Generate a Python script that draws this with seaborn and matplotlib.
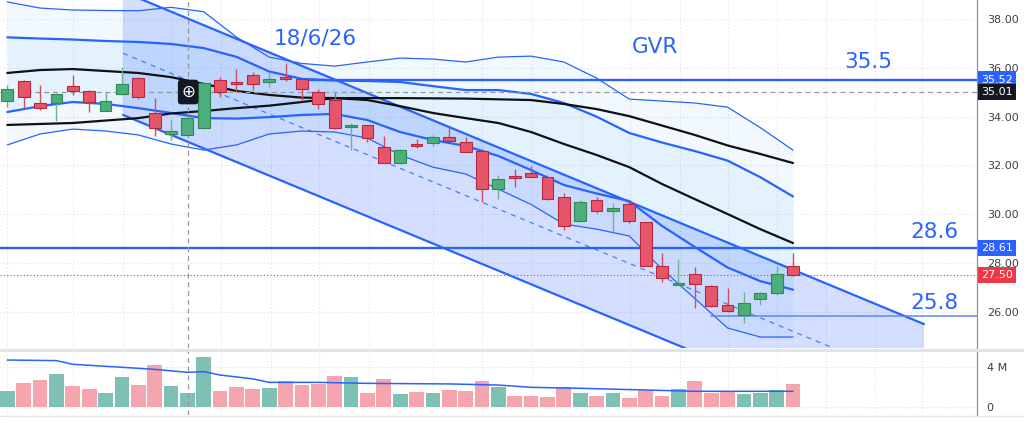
import numpy as np
import pandas as pd
import matplotlib
matplotlib.use("Agg")
import matplotlib.pyplot as plt
from matplotlib.lines import Line2D
import seaborn as sns

sns.set_style("white")
plt.rcParams["font.family"] = ["DejaVu Sans"]

# ---------------- data ----------------
opens = [34.66, 35.47, 34.56, 34.57, 35.25, 35.05, 34.24, 34.91, 35.60, 34.13, 33.29, 33.25, 33.52,
         35.50, 35.42, 35.70, 35.41, 35.61, 35.54, 35.00, 34.68, 33.58, 33.64, 32.77, 32.11, 32.86,
         32.90, 33.15, 32.97, 32.59, 31.02, 31.54, 31.70, 31.51, 30.69, 29.72, 30.58, 30.13, 30.41,
         29.68, 27.89, 27.11, 27.54, 27.06, 26.28, 25.87, 26.51, 26.78, 27.90]
closes = [35.12, 34.82, 34.34, 34.91, 35.06, 34.59, 34.63, 35.34, 34.82, 33.52, 33.41, 33.93, 35.39,
          35.02, 35.32, 35.32, 35.54, 35.54, 35.12, 34.50, 33.55, 33.64, 33.11, 32.09, 32.62, 32.81,
          33.15, 33.01, 32.54, 31.02, 31.43, 31.50, 31.51, 30.61, 29.52, 30.49, 30.13, 30.24, 29.71,
          27.90, 27.37, 27.17, 27.13, 26.24, 26.03, 26.35, 26.76, 27.55, 27.50]
highs = [35.30, 35.50, 35.30, 34.93, 35.70, 35.10, 35.00, 36.02, 35.62, 34.75, 33.89, 34.00, 35.42,
         35.61, 35.94, 35.84, 35.83, 36.18, 35.56, 35.12, 34.95, 33.75, 33.66, 33.20, 32.66, 33.07,
         33.25, 33.59, 33.15, 32.66, 31.61, 31.84, 31.98, 31.61, 30.88, 30.58, 30.69, 30.47, 30.51,
         29.70, 28.42, 28.15, 27.82, 27.10, 26.96, 26.82, 26.80, 27.88, 28.42]
lows = [34.40, 34.34, 34.27, 33.82, 34.90, 34.20, 34.22, 34.88, 34.71, 33.20, 33.04, 33.20, 33.50,
        34.79, 35.00, 35.09, 35.23, 35.46, 34.65, 34.31, 33.50, 32.63, 32.97, 32.09, 32.05, 32.73,
        32.80, 33.01, 32.54, 30.51, 30.61, 31.13, 31.51, 30.58, 29.35, 29.70, 30.04, 29.28, 29.63,
        27.88, 27.23, 27.10, 26.14, 26.22, 26.00, 25.55, 26.30, 26.70, 27.48]
volumes_m = [1.58, 2.39, 2.69, 3.26, 2.12, 1.78, 1.41, 3.03, 2.18, 4.17, 2.12, 1.41, 5.00, 1.58,
             2.02, 1.78, 1.92, 2.62, 2.18, 2.25, 3.09, 2.96, 1.34, 2.79, 1.28, 1.48, 1.41, 1.65,
             1.58, 2.62, 2.02, 1.11, 1.11, 1.01, 2.02, 1.41, 1.04, 1.34, 0.87, 1.68, 1.04, 1.78,
             2.55, 1.41, 1.55, 1.28, 1.38, 1.68, 2.29]

# Bollinger bands (1 and 2 std) around the fast black MA, read at even bars
bb_idx = list(range(0, 49, 2))
bb_mid = [35.79, 35.91, 35.95, 35.87, 35.79, 35.62, 35.34, 35.05, 34.89, 34.78, 34.76, 34.68, 34.43,
          34.15, 33.94, 33.74, 33.37, 32.88, 32.43, 31.93, 31.24, 30.62, 30.01, 29.39, 28.82]
bb_up2 = [38.70, 38.45, 38.37, 38.35, 38.34, 38.48, 38.30, 37.26, 36.44, 36.18, 36.07, 36.24, 36.40,
          36.36, 36.24, 36.44, 36.48, 36.24, 35.58, 34.72, 34.64, 34.56, 34.39, 33.55, 32.63]
bb_up1 = [37.25, 37.20, 37.16, 37.10, 37.06, 36.98, 36.81, 36.45, 35.85, 35.55, 35.48, 35.46, 35.42,
          35.25, 35.09, 35.09, 34.93, 34.56, 34.00, 33.33, 32.94, 32.59, 32.20, 31.52, 30.73]
bb_lo1 = [34.19, 34.43, 34.60, 34.52, 34.35, 34.15, 33.94, 33.92, 33.98, 34.07, 34.11, 33.86, 33.37,
          33.04, 32.80, 32.39, 31.81, 31.20, 30.85, 30.54, 29.52, 28.66, 27.82, 27.26, 26.91]
bb_lo2 = [32.84, 33.29, 33.49, 33.41, 33.25, 32.88, 32.63, 32.84, 33.29, 33.41, 33.37, 33.12, 32.43,
          31.93, 31.65, 31.03, 30.40, 29.60, 29.39, 29.11, 27.75, 26.55, 25.34, 24.97, 24.97]

# slow black MA
ma_slow_idx = [0, 4, 8, 10, 12, 14, 16, 18, 20, 24, 28, 32, 34, 36, 38, 42, 44, 46, 48]
ma_slow = [33.66, 33.74, 33.94, 34.13, 34.23, 34.35, 34.45, 34.60, 34.76, 34.76, 34.74, 34.68,
           34.52, 34.31, 34.02, 33.25, 32.82, 32.47, 32.10]

# volume moving average (millions)
vma_idx = [0, 3, 4, 7, 9, 11, 12, 13, 15, 16, 19, 22, 27, 30, 32, 35, 39, 42, 48]
vma = [4.70, 4.64, 4.27, 3.97, 3.76, 3.46, 3.53, 3.19, 2.80, 2.45, 2.45, 2.35, 2.29, 2.18, 1.95,
       1.85, 1.68, 1.55, 1.55]

# descending parallel channel (anchor bars and prices)
chan_idx = [7.07, 56.0]
chan_upper = [39.12, 25.50]
chan_lower = [34.07, 20.45]

# horizontal levels
level_hi, level_hi_start = 35.52, 18
level_mid = 28.61
level_lo, level_lo_start = 25.83, 43
crosshair_price, crosshair_bar = 35.01, 11.05
last_price = 27.50

price_ticks = [26, 28, 30, 32, 34, 36, 38]
grid_bars = [0, 4, 7.07, 10.06, 13.05, 16.1, 19.04, 22.1, 26.0, 29.0, 32.05, 35.1, 38.04,
             41.09, 44.03, 47.0, 50.0, 53.0, 55.9]

# ---------------- styling ----------------
BLUE = "#2962ff"
UP_FILL, UP_EDGE, UP_WICK = "#4cae7c", "#2f8a52", "#6cb68a"
DN_FILL, DN_EDGE, DN_WICK = "#e5566a", "#b8283c", "#c9505e"
VOL_UP, VOL_DN = "#7fc0b5", "#f5a5ae"
GRID = "#dfe2e8"

n = len(opens)
idx = np.arange(n)
XLIM = (-0.446, 59.24)
YLIM = (24.52, 38.78)

fig = plt.figure(figsize=(10.24, 4.23), dpi=100, facecolor="white")
ax = fig.add_axes([0, 1 - 348 / 423, 977 / 1024, 348 / 423])
axv = fig.add_axes([0, 1 - 415 / 423, 977 / 1024, 64 / 423])

# ---- grid ----
for a in (ax, axv):
    for g in grid_bars:
        a.axvline(g, color=GRID, lw=0.8, ls=(0, (1, 2)), zorder=0)
for p in price_ticks:
    ax.axhline(p, color=GRID, lw=0.8, ls=(0, (1, 2)), zorder=0)
for v in (0, 4):
    axv.axhline(v, color=GRID, lw=0.8, ls=(0, (1, 2)), zorder=0)

# ---- band fills ----
ax.fill_between(bb_idx, bb_lo2, bb_up2, color="#2196f3", alpha=0.06, lw=0, zorder=1)
ax.fill_between(bb_idx, bb_lo1, bb_up1, color="#2196f3", alpha=0.06, lw=0, zorder=1)

# ---- channel ----
ax.fill_between(chan_idx, chan_lower, chan_upper, color=BLUE, alpha=0.2, lw=0, zorder=1)
chan_mid = [(u + l) / 2 for u, l in zip(chan_upper, chan_lower)]
sns.lineplot(x=chan_idx, y=chan_upper, ax=ax, color=BLUE, lw=1.6, sort=False, estimator=None, zorder=3)
sns.lineplot(x=chan_idx, y=chan_lower, ax=ax, color=BLUE, lw=1.6, sort=False, estimator=None, zorder=3)
sns.lineplot(x=chan_idx, y=chan_mid, ax=ax, color=BLUE, lw=0.9, sort=False, estimator=None,
             zorder=3, alpha=0.8).lines[-1].set_dashes((4, 4))

# ---- bands and MAs ----
sns.lineplot(x=bb_idx, y=bb_up2, ax=ax, color=BLUE, lw=0.9, sort=False, estimator=None, zorder=3)
sns.lineplot(x=bb_idx, y=bb_lo2, ax=ax, color=BLUE, lw=0.9, sort=False, estimator=None, zorder=3)
sns.lineplot(x=bb_idx, y=bb_up1, ax=ax, color=BLUE, lw=1.6, sort=False, estimator=None, zorder=3)
sns.lineplot(x=bb_idx, y=bb_lo1, ax=ax, color=BLUE, lw=1.6, sort=False, estimator=None, zorder=3)
sns.lineplot(x=bb_idx, y=bb_mid, ax=ax, color="#111111", lw=1.6, sort=False, estimator=None, zorder=4)
sns.lineplot(x=ma_slow_idx, y=ma_slow, ax=ax, color="#111111", lw=1.6, sort=False, estimator=None, zorder=4)

# ---- horizontal levels ----
span = XLIM[1] - XLIM[0]
ax.axhline(level_hi, xmin=(level_hi_start - XLIM[0]) / span, xmax=1, color=BLUE, lw=1.7, zorder=4)
ax.axhline(level_mid, color=BLUE, lw=1.7, zorder=4)
ax.axhline(level_lo, xmin=(level_lo_start - XLIM[0]) / span, xmax=1, color="#5c86f7", lw=1.1, zorder=4)
ax.axhline(last_price, color="#f23645", lw=0.8, ls=(0, (1, 2)), zorder=4)
ax.axhline(crosshair_price, color="#9598a1", lw=0.9, ls=(0, (4, 3)), zorder=4)
for a in (ax, axv):
    a.axvline(crosshair_bar, color="#9598a1", lw=0.9, ls=(0, (4, 3)), zorder=4)

# ---- candles ----
up = [c >= o for o, c in zip(opens, closes)]
wick_cols = [UP_WICK if u else DN_WICK for u in up]
ax.vlines(idx, lows, highs, colors=wick_cols, lw=1.0, zorder=5)
bottoms = [min(o, c) for o, c in zip(opens, closes)]
heights = [max(abs(c - o), 0.05) for o, c in zip(opens, closes)]
ax.bar(idx, heights, bottom=bottoms, width=0.72,
       color=[UP_FILL if u else DN_FILL for u in up],
       edgecolor=[UP_EDGE if u else DN_EDGE for u in up], linewidth=0.8, zorder=6)

# crosshair marker
ax.text(crosshair_bar, crosshair_price, "\u2295", ha="center", va="center", color="white",
        fontsize=12, zorder=8,
        bbox=dict(boxstyle="round,pad=0.2,rounding_size=0.2", fc="#131722", ec="none"))

# ---- volume ----
vdf = pd.DataFrame({"bar": idx, "vol": volumes_m, "dir": ["up" if u else "down" for u in up]})
sns.barplot(data=vdf, x="bar", y="vol", hue="dir", palette={"up": VOL_UP, "down": VOL_DN},
            native_scale=True, dodge=False, saturation=1, width=0.9, errorbar=None,
            legend=False, linewidth=0, ax=axv, zorder=2)
sns.lineplot(x=vma_idx, y=vma, ax=axv, color=BLUE, lw=1.1, sort=False, estimator=None, zorder=3)

# ---- axes formatting ----
ax.set_xlim(*XLIM)
ax.set_ylim(*YLIM)
axv.set_xlim(*XLIM)
axv.set_ylim(-0.84, 5.61)
for a in (ax, axv):
    a.set_facecolor("white")
    a.set_xticks([])
    a.set_xlabel("")
    a.set_ylabel("")
    for s in ("left", "top", "bottom"):
        a.spines[s].set_visible(False)
    a.spines["right"].set_color("#8d919b")
    a.spines["right"].set_linewidth(0.9)
    a.yaxis.tick_right()
    a.tick_params(axis="y", length=0, pad=7, labelsize=8, labelcolor="#3a3e48")

ax.set_yticks(price_ticks)
ax.set_yticklabels([f"{p:.2f}" for p in price_ticks])
axv.set_yticks([0, 4])
axv.set_yticklabels(["0", "4 M"])

# price tags on the right scale
tags = [(level_hi, "35.52", BLUE), (crosshair_price, "35.01", "#131722"),
        (level_mid, "28.61", BLUE), (last_price, "27.50", "#f23645")]
for val, txt, col in tags:
    ax.text(1.004, val, txt, transform=ax.get_yaxis_transform(), ha="left", va="center",
            fontsize=8, color="white", zorder=10, clip_on=False,
            bbox=dict(boxstyle="square,pad=0.28", fc=col, ec="none"))

# annotations
ann = [(0.323, 0.890, "18/6/26"), (0.670, 0.864, "GVR"), (0.889, 0.822, "35.5"),
       (0.956, 0.333, "28.6"), (0.956, 0.130, "25.8")]
for xf, yf, txt in ann:
    ax.text(xf, yf, txt, transform=ax.transAxes, ha="center", va="center",
            fontsize=15.5, color=BLUE, zorder=9)

# panel separators
fig.add_artist(Line2D([0, 1], [1 - 349.5 / 423, 1 - 349.5 / 423], transform=fig.transFigure,
                      color="#e0e3eb", lw=2.2))
fig.add_artist(Line2D([0, 1], [1 - 416 / 423, 1 - 416 / 423], transform=fig.transFigure,
                      color="#e0e3eb", lw=1.0))

fig.savefig("out.png", dpi=100, facecolor="white")
